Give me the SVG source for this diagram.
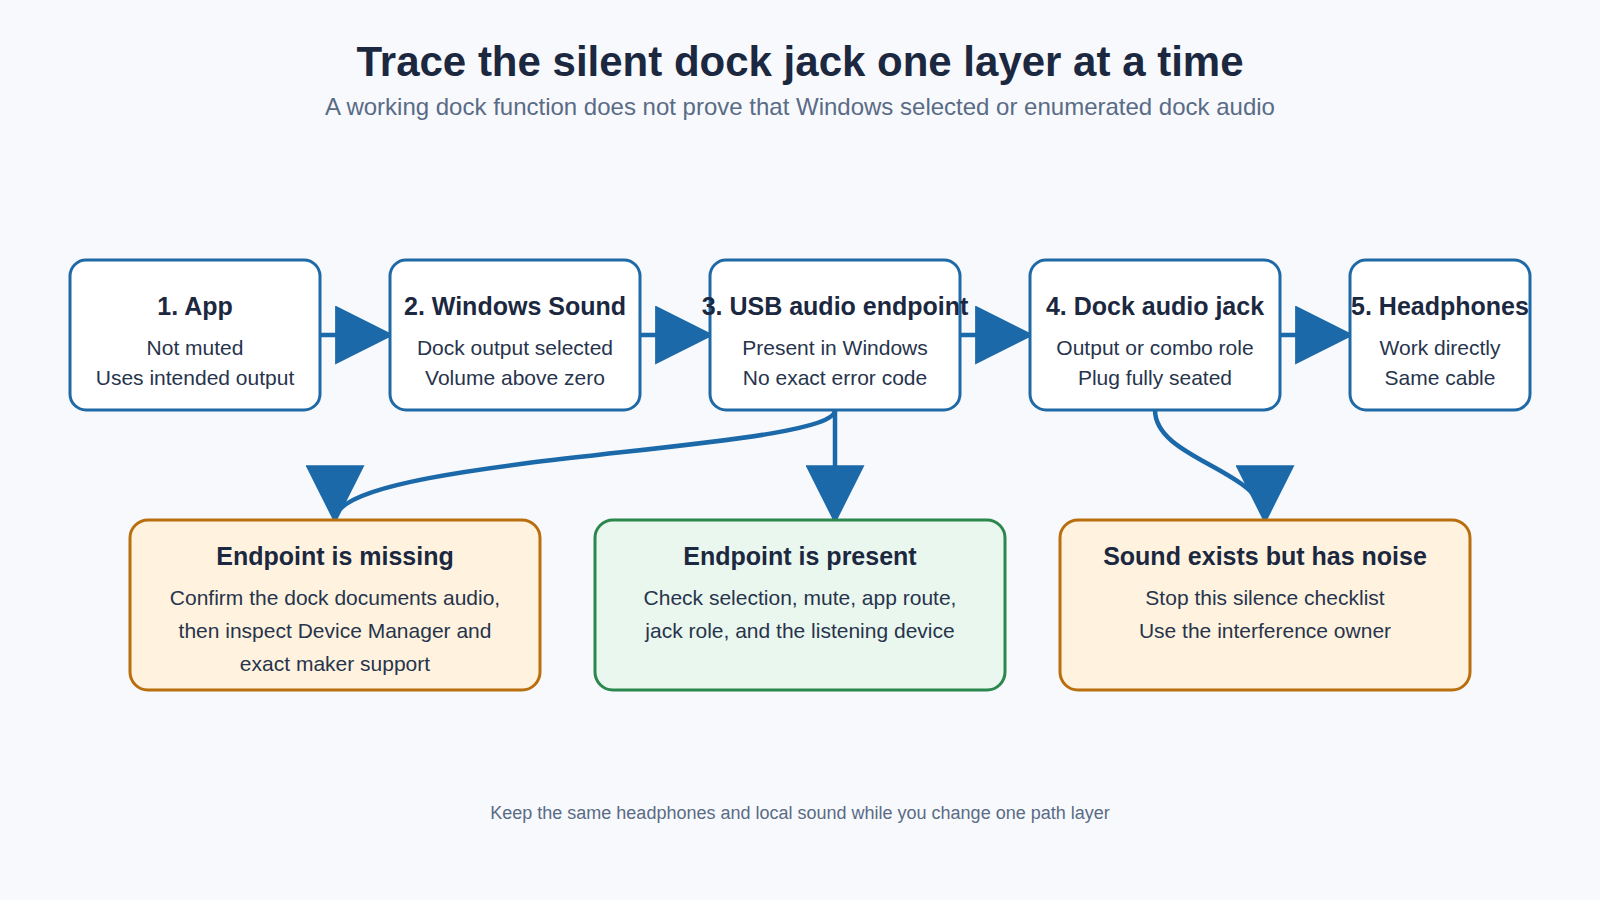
<svg xmlns="http://www.w3.org/2000/svg" width="1600" height="900" viewBox="0 0 1600 900">
  <defs>
    <marker id="ah" viewBox="0 0 10 10" markerUnits="userSpaceOnUse" markerWidth="59" markerHeight="59" refX="9.3" refY="5" orient="auto">
      <path d="M0 0 L10 5 L0 10 z" fill="#1b69a8"/>
    </marker>
    <style>
      .bg { fill: #f7f9fc; }
      .title { font-family: "Liberation Sans", Arial, sans-serif; font-size: 42px; font-weight: bold; fill: #1b2840; text-anchor: middle; }
      .sub { font-family: "Liberation Sans", Arial, sans-serif; font-size: 24px; fill: #5a6b86; text-anchor: middle; }
      .foot { font-family: "Liberation Sans", Arial, sans-serif; font-size: 18px; fill: #5a6b86; text-anchor: middle; }
      .step { fill: #ffffff; stroke: #1f6aa6; stroke-width: 3; }
      .warn { fill: #fff3df; stroke: #b96f0d; stroke-width: 3; }
      .ok { fill: #eaf7ee; stroke: #2b874d; stroke-width: 3; }
      .h { font-family: "Liberation Sans", Arial, sans-serif; font-size: 25px; font-weight: bold; fill: #1b2840; text-anchor: middle; }
      .h2 { font-family: "Liberation Sans", Arial, sans-serif; font-size: 25px; font-weight: bold; fill: #1b2840; text-anchor: middle; }
      .b { font-family: "Liberation Sans", Arial, sans-serif; font-size: 21px; fill: #27344c; text-anchor: middle; }
      .conn { fill: none; stroke: #1b69a8; stroke-width: 4.5; marker-end: url(#ah); }
    </style>
  </defs>
  <rect class="bg" x="0" y="0" width="1600" height="900"/>

  <text class="title" x="800" y="76">Trace the silent dock jack one layer at a time</text>
  <text class="sub" x="800" y="115">A working dock function does not prove that Windows selected or enumerated dock audio</text>

  <g id="connectors">
    <path class="conn" d="M320 335 L390 335"/>
    <path class="conn" d="M640 335 L710 335"/>
    <path class="conn" d="M960 335 L1030 335"/>
    <path class="conn" d="M1280 335 L1350 335"/>
    <path class="conn" d="M835 410 C835 452, 335 455, 335 520"/>
    <path class="conn" d="M835 410 L835 520"/>
    <path class="conn" d="M1155 410 C1155 460, 1265 470, 1265 520"/>
  </g>

  <g id="node-app">
    <rect class="step" x="70" y="260" width="250" height="150" rx="16"/>
    <text class="h" x="195" y="315">1. App</text>
    <text class="b" x="195" y="355">Not muted</text>
    <text class="b" x="195" y="385">Uses intended output</text>
  </g>
  <g id="node-windows-sound">
    <rect class="step" x="390" y="260" width="250" height="150" rx="16"/>
    <text class="h" x="515" y="315">2. Windows Sound</text>
    <text class="b" x="515" y="355">Dock output selected</text>
    <text class="b" x="515" y="385">Volume above zero</text>
  </g>
  <g id="node-usb-endpoint">
    <rect class="step" x="710" y="260" width="250" height="150" rx="16"/>
    <text class="h" x="835" y="315">3. USB audio endpoint</text>
    <text class="b" x="835" y="355">Present in Windows</text>
    <text class="b" x="835" y="385">No exact error code</text>
  </g>
  <g id="node-dock-jack">
    <rect class="step" x="1030" y="260" width="250" height="150" rx="16"/>
    <text class="h" x="1155" y="315">4. Dock audio jack</text>
    <text class="b" x="1155" y="355">Output or combo role</text>
    <text class="b" x="1155" y="385">Plug fully seated</text>
  </g>
  <g id="node-headphones">
    <rect class="step" x="1350" y="260" width="180" height="150" rx="16"/>
    <text class="h" x="1440" y="315">5. Headphones</text>
    <text class="b" x="1440" y="355">Work directly</text>
    <text class="b" x="1440" y="385">Same cable</text>
  </g>

  <g id="node-missing">
    <rect class="warn" x="130" y="520" width="410" height="170" rx="18"/>
    <text class="h2" x="335" y="565">Endpoint is missing</text>
    <text class="b" x="335" y="605">Confirm the dock documents audio,</text>
    <text class="b" x="335" y="638">then inspect Device Manager and</text>
    <text class="b" x="335" y="671">exact maker support</text>
  </g>
  <g id="node-present">
    <rect class="ok" x="595" y="520" width="410" height="170" rx="18"/>
    <text class="h2" x="800" y="565">Endpoint is present</text>
    <text class="b" x="800" y="605">Check selection, mute, app route,</text>
    <text class="b" x="800" y="638">jack role, and the listening device</text>
  </g>
  <g id="node-noise">
    <rect class="warn" x="1060" y="520" width="410" height="170" rx="18"/>
    <text class="h2" x="1265" y="565">Sound exists but has noise</text>
    <text class="b" x="1265" y="605">Stop this silence checklist</text>
    <text class="b" x="1265" y="638">Use the interference owner</text>
  </g>

  <text class="foot" x="800" y="819">Keep the same headphones and local sound while you change one path layer</text>
</svg>
